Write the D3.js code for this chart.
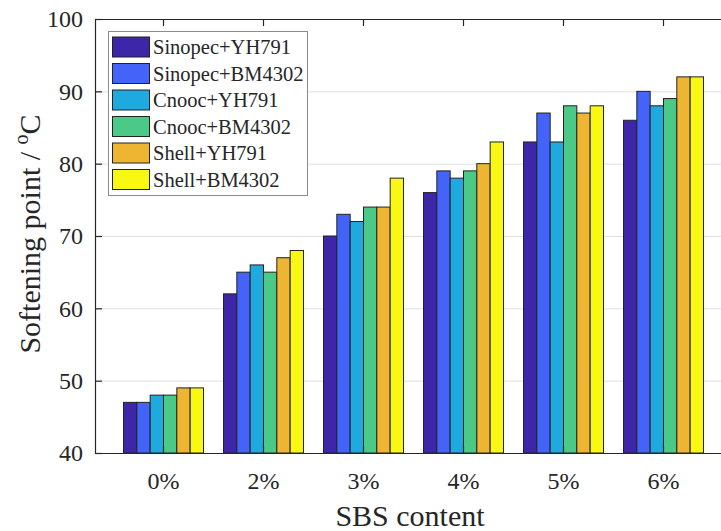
<!DOCTYPE html>
<html>
<head>
<meta charset="utf-8">
<script src="https://cdn.jsdelivr.net/npm/d3@7"></script>
<style>
  body { margin: 0; background: #fff; }
</style>
</head>
<body>
<div id="chart"></div>
<script>
// data
const contents = ['0%', '2%', '3%', '4%', '5%', '6%']
const series = ['Sinopec+YH791', 'Sinopec+BM4302', 'Cnooc+YH791', 'Cnooc+BM4302', 'Shell+YH791', 'Shell+BM4302']
const sinopecYH = [47, 62, 70, 76, 83, 86]
const sinopecBM = [47, 65, 73, 79, 87, 90]
const cnoocYH = [48, 66, 72, 78, 83, 88]
const cnoocBM = [48, 65, 74, 79, 88, 89]
const shellYH = [49, 67, 74, 80, 87, 92]
const shellBM = [49, 68, 78, 83, 88, 92]
const yTicks = [40, 50, 60, 70, 80, 90, 100]
const colors = ['#3e26a8', '#4363f9', '#1ea9df', '#4aca86', '#eeb533', '#f9f813']

const values = [sinopecYH, sinopecBM, cnoocYH, cnoocBM, shellYH, shellBM]

const width = 721,
  height = 531
const pLeft = 95, pTop = 19, pBottom = 453, pRight = 732
const fontName = 'Liberation Serif'
const ink = '#262626'

const svg = d3.select('#chart')
  .append('svg')
  .attr('width', width)
  .attr('height', height)
  .attr('font-family', fontName)

const x = d3.scaleBand()
  .domain(contents)
  .range([pLeft, pRight])
  .paddingInner(0.2)
  .paddingOuter(0.285)

const xs = d3.scaleBand()
  .domain(series)
  .range([0, x.bandwidth()])

const y = d3.scaleLinear()
  .domain([40, 100])
  .range([pBottom, pTop])

// grid
svg.append('g')
  .selectAll('line')
  .data(yTicks.slice(1, -1))
  .enter()
  .append('line')
  .attr('x1', pLeft)
  .attr('x2', pRight)
  .attr('y1', d => y(d) + 0.5)
  .attr('y2', d => y(d) + 0.5)
  .attr('stroke', '#dfdfdf')
  .attr('stroke-width', 1)

// bars
const rows = contents.map((c, i) => series.map((s, j) => ({ c: c, s: s, v: values[j][i], k: j })))

svg.append('g')
  .selectAll('g')
  .data(rows)
  .enter()
  .append('g')
  .attr('transform', (d, i) => `translate(${x(contents[i])},0)`)
  .selectAll('rect')
  .data(d => d)
  .enter()
  .append('rect')
  .attr('x', d => xs(d.s))
  .attr('y', d => y(d.v))
  .attr('width', xs.bandwidth())
  .attr('height', d => y(40) - y(d.v))
  .attr('fill', d => colors[d.k])
  .attr('stroke', '#222')
  .attr('stroke-width', 1)

// axes
const yAxis = svg.append('g')
  .attr('transform', `translate(${pLeft},0)`)
  .call(d3.axisLeft(y).tickValues(yTicks).tickSizeInner(-7).tickSizeOuter(0).tickPadding(12))

const xAxis = svg.append('g')
  .attr('transform', `translate(0,${pBottom})`)
  .call(d3.axisBottom(x).tickSizeInner(-7).tickSizeOuter(0).tickPadding(19))

const topAxis = svg.append('g')
  .attr('transform', `translate(0,${pTop})`)
  .call(d3.axisTop(x).tickSizeInner(-7).tickSizeOuter(0).tickFormat(''))

svg.selectAll('.domain, .tick line').attr('stroke', ink).attr('stroke-width', 1.2)
svg.selectAll('g').attr('font-family', fontName).attr('font-size', null)
svg.selectAll('.tick text')
  .attr('font-family', fontName)
  .attr('font-size', 24)
  .attr('fill', ink)
yAxis.selectAll('.tick text').attr('dy', '0.33em')

// labels
svg.append('text')
  .attr('x', 410)
  .attr('y', 526)
  .attr('text-anchor', 'middle')
  .attr('font-family', fontName)
  .attr('font-size', 30)
  .attr('fill', ink)
  .text('SBS content')

const yl = svg.append('text')
  .attr('transform', 'translate(40,234) rotate(-90)')
  .attr('text-anchor', 'middle')
  .attr('font-family', fontName)
  .attr('font-size', 30)
  .attr('fill', ink)
yl.append('tspan').text('Softening point / ')
yl.append('tspan').attr('dy', -12).attr('font-size', 20).text('o')
yl.append('tspan').attr('dy', 12).text('C')

// legend
const lg = svg.append('g')
lg.append('rect')
  .attr('x', 108.5)
  .attr('y', 31.5)
  .attr('width', 199)
  .attr('height', 164)
  .attr('fill', '#fff')
  .attr('stroke', '#8c8c8c')
  .attr('stroke-width', 1)

const item = lg.selectAll('.item')
  .data(series)
  .enter()
  .append('g')
  .attr('transform', (d, i) => `translate(112,${47 + i * 26.5})`)
item.append('rect')
  .attr('x', 0.5)
  .attr('y', -10)
  .attr('width', 37)
  .attr('height', 20)
  .attr('fill', (d, i) => colors[i])
  .attr('stroke', '#222')
item.append('text')
  .attr('x', 41)
  .attr('y', 7)
  .attr('font-family', fontName)
  .attr('font-size', 20.5)
  .attr('fill', ink)
  .text(d => d)
</script>
</body>
</html>
